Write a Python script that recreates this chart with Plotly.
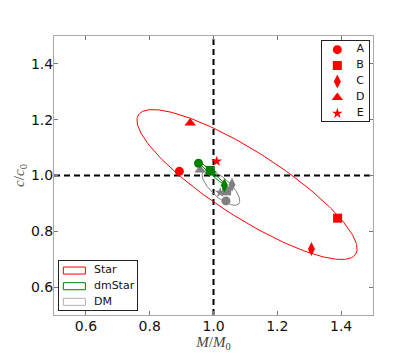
import numpy as np
import plotly.graph_objects as go

# ---- data ----
LABELS = ["A", "B", "C", "D", "E"]
SYMBOLS = ["circle", "square", "diamond-tall", "triangle-up", "star"]

STAR_M = [0.893, 1.389, 1.307, 0.927, 1.010]
STAR_C = [1.015, 0.847, 0.737, 1.188, 1.051]

DMSTAR_M = [0.953, 0.990, 1.034, 0.990, 0.995]
DMSTAR_C = [1.044, 1.018, 0.965, 1.015, 1.010]

DM_M = [1.039, 1.041, 1.058, 0.958, 1.021]
DM_C = [0.909, 0.945, 0.967, 1.020, 0.939]

SERIES_NAMES = ["Star", "dmStar", "DM"]
REF_M = 1.0
REF_C = 1.0
TICKS = [0.6, 0.8, 1.0, 1.2, 1.4]
TICK_TEXT = ["0.6", "0.8", "1.0", "1.2", "1.4"]

# ---- styles ----
_RED = "#ff0000"
_GREEN = "#008000"
_GRAY = "#808080"
_SPINE = "#a8a8a8"
_FONT = "DejaVu Sans"
_K = np.sqrt(2.30)  # 68.3% contour for 2 dof

SIZES = [9, 9, 10, 10, 8]


def conf_ellipse(m, c, n=240):
    pts = np.vstack([m, c])
    mu = pts.mean(axis=1)
    vals, vecs = np.linalg.eigh(np.cov(pts))
    t = np.linspace(0, 2 * np.pi, n)
    circ = np.vstack([np.cos(t), np.sin(t)]) * (_K * np.sqrt(vals))[:, None]
    xy = vecs @ circ + mu[:, None]
    return xy[0], xy[1]


series = [
    (STAR_M, STAR_C, _RED),
    (DMSTAR_M, DMSTAR_C, _GREEN),
    (DM_M, DM_C, _GRAY),
]

fig = go.Figure()

for m, c, col in series:
    ex, ey = conf_ellipse(m, c)
    fig.add_trace(go.Scatter(x=ex, y=ey, mode="lines",
                             line=dict(color=col, width=1), hoverinfo="skip"))

for m, c, col in reversed(series):
    fig.add_trace(go.Scatter(
        x=m, y=c, mode="markers", text=LABELS,
        marker=dict(symbol=SYMBOLS, size=SIZES, color=col, opacity=1, line_width=0),
    ))

# marker legend (top right), drawn in a small inset axis
fig.add_trace(go.Scatter(
    x=[0.33] * len(LABELS), y=list(range(len(LABELS))), mode="markers",
    marker=dict(symbol=SYMBOLS, size=SIZES, color=_RED, opacity=1, line_width=0),
    xaxis="x2", yaxis="y2", hoverinfo="skip",
))
fig.add_trace(go.Scatter(
    x=[0.82] * len(LABELS), y=list(range(len(LABELS))), mode="text",
    text=LABELS, textposition="middle center",
    textfont=dict(family=_FONT, size=11, color="#111"),
    xaxis="x2", yaxis="y2", hoverinfo="skip",
))

# ellipse legend (bottom left)
fig.add_trace(go.Bar(
    x=[0.283] * 3, base=[0.057] * 3, y=list(range(3)), orientation="h", width=0.45,
    marker=dict(color="white", line=dict(color=[_RED, _GREEN, "#b0b0b0"], width=1)),
    xaxis="x3", yaxis="y3", hoverinfo="skip",
))
fig.add_trace(go.Scatter(
    x=[0.45] * 3, y=list(range(3)), mode="text",
    text=SERIES_NAMES, textposition="middle right",
    textfont=dict(family=_FONT, size=11, color="#111"),
    xaxis="x3", yaxis="y3", hoverinfo="skip",
))

fig.add_vline(x=REF_M, line=dict(color="black", width=2, dash="6px,4px"), layer="below")
fig.add_hline(y=REF_C, line=dict(color="black", width=2, dash="6px,4px"), layer="below")

axis_common = dict(
    range=[0.5, 1.5], tickvals=TICKS, ticktext=TICK_TEXT,
    ticks="inside", ticklen=4, tickcolor="#777", tickwidth=1,
    showline=True, linecolor=_SPINE, linewidth=1, mirror="ticks",
    showgrid=False, zeroline=False, automargin=False,
    tickfont=dict(family=_FONT, size=14, color="#111"),
)
inset = dict(showline=True, linecolor="#222", linewidth=1, mirror=True,
             showticklabels=False, ticks="", showgrid=False, zeroline=False,
             fixedrange=True, automargin=False)

# the page body adds an 8px margin, so the figure is sized to sit inside the window
fig.update_layout(
    template="none",
    width=407, height=355,
    margin=dict(l=46, r=42, t=28, b=48),
    plot_bgcolor="white", paper_bgcolor="white",
    showlegend=False,
    font=dict(family=_FONT, size=12, color="#111"),
    xaxis=dict(**axis_common, ticklabelstandoff=-2,
               title=dict(text="<i>M</i>/<i>M</i><sub>0</sub>", standoff=1,
                          font=dict(family="Liberation Serif", size=15, color="#444"))),
    yaxis=dict(**axis_common, ticklabelstandoff=-3,
               title=dict(text="<i>c</i>/<i>c</i><sub>0</sub>", standoff=2,
                          font=dict(family="Liberation Serif", size=15, color="#555"))),
    xaxis2=dict(**inset, domain=[0.840, 0.986], range=[0, 1], anchor="y2"),
    yaxis2=dict(**inset, domain=[0.694, 0.983], range=[4.5, -0.56], anchor="x2"),
    xaxis3=dict(**inset, domain=[0.0154, 0.2595], range=[0, 1], anchor="y3"),
    yaxis3=dict(**inset, domain=[0.0186, 0.1918], range=[2.51, -0.58], anchor="x3"),
)

fig.write_html("out.html")
